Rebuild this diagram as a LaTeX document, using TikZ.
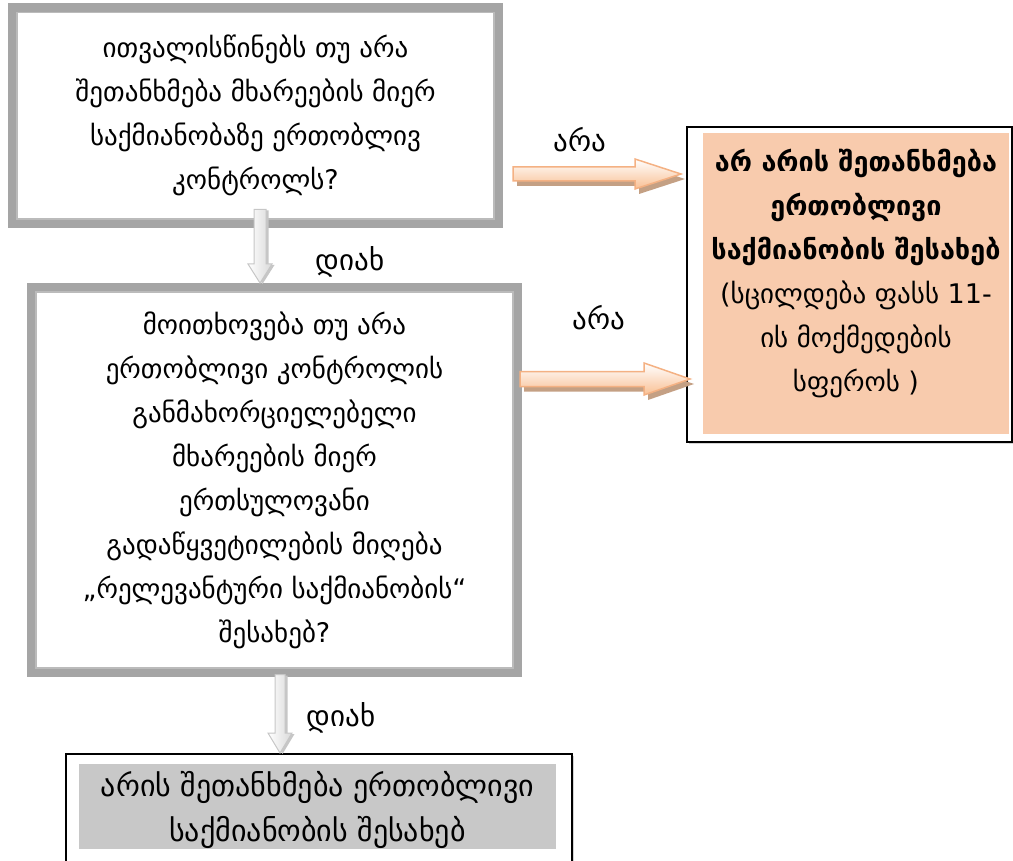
\documentclass[tikz,border=0pt]{standalone}
\usepackage{fontspec}
\setmainfont{DejaVu Sans}
\usetikzlibrary{calc,positioning,shadows}
\definecolor{framegray}{RGB}{165,165,165}
\definecolor{peach}{RGB}{248,203,173}
\definecolor{peachline}{RGB}{244,177,131}
\definecolor{peachshade}{RGB}{196,160,132}
\definecolor{boxgray}{RGB}{200,200,200}
\newcommand{\katext}{\fontsize{27pt}{44pt}\selectfont}
\newcommand{\kabig}{\fontsize{30pt}{45pt}\selectfont}
\newcommand{\kalbl}{\fontsize{29pt}{36pt}\selectfont}
% block arrow: style, from, to, shaft half width, head half width, head length
\newcommand{\blockarrow}[6]{%
  \coordinate (ba) at ($(#3)!#6!(#2)$);
  \path[#1] ($(#2)!#4!90:(#3)$) -- ($(ba)!#4!90:(#3)$) -- ($(ba)!#5!90:(#3)$) -- (#3)
    -- ($(ba)!#5!-90:(#3)$) -- ($(ba)!#4!-90:(#3)$) -- ($(#2)!#4!-90:(#3)$) -- cycle;}
\tikzset{
  qbox/.style={draw=framegray,line width=9pt,inner sep=0pt,align=center,font=\katext},
  innerline/.style={draw=framegray!75,line width=1.5pt},
  outframe/.style={draw=black,line width=2pt,fill=white,inner sep=0pt,
    drop shadow={shadow xshift=1.5pt,shadow yshift=-1.5pt,opacity=0.35}},
  peacharrow/.style={draw=peachline,line width=1.5pt,top color=white,bottom color=peach!85!orange,
    drop shadow={shadow xshift=4pt,shadow yshift=-5pt,fill=peachshade,opacity=1}},
  grayarrow/.style={draw=gray!45,line width=1pt,left color=white,right color=gray!30,
    drop shadow={shadow xshift=2.5pt,shadow yshift=-1pt,fill=gray!45,opacity=1}},
  lbl/.style={font=\kalbl,inner sep=1pt}
}
\begin{document}
\begin{tikzpicture}[x=1pt,y=1pt]
\useasboundingbox (0,0) rectangle (1013,-861);
% questions
\node[qbox,minimum width=486pt,minimum height=215.5pt] (q1) at (255.5,-115.75)
  {ითვალისწინებს თუ არა\\შეთანხმება მხარეების მიერ\\საქმიანობაზე ერთობლივ\\კონტროლს?};
\draw[innerline] ([shift={(9,-9)}]q1.north west) rectangle ([shift={(-9,9)}]q1.south east);
\node[qbox,minimum width=486pt,minimum height=385pt] (q2) at (274.5,-480)
  {მოითხოვება თუ არა\\ერთობლივი კონტროლის\\განმახორციელებელი\\მხარეების მიერ\\ერთსულოვანი\\გადაწყვეტილების მიღება\\„რელევანტური საქმიანობის“\\შესახებ?};
\draw[innerline] ([shift={(9,-9)}]q2.north west) rectangle ([shift={(-9,9)}]q2.south east);
% outcomes
\node[outframe,minimum width=325pt,minimum height=315pt] (nobox) at (849.5,-284.5) {};
\fill[peach] ([shift={(17,-7)}]nobox.north west) rectangle ([shift={(-4,9)}]nobox.south east);
\node[align=center,font=\katext] (no1) at (856,-273)
  {\textbf{არ არის შეთანხმება}\\\textbf{ერთობლივი}\\\textbf{საქმიანობის შესახებ}\\(სცილდება ფასს 11-\\ის მოქმედების\\სფეროს )};
\node[outframe,minimum width=506pt,minimum height=140pt] (yesbox) at (319,-824) {};
\fill[boxgray] ([shift={(14,-11)}]yesbox.north west) rectangle ([shift={(-17,-96)}]yesbox.north east);
\node[align=center,font=\kabig] (yes1) at (317.5,-809.5)
  {არის შეთანხმება ერთობლივი\\საქმიანობის შესახებ};
% arrows
\coordinate (d1s) at ($(q1.south)+(4.5,18.5)$);
\coordinate (d1e) at (d1s |- q2.north);
\blockarrow{grayarrow}{d1s}{d1e}{6pt}{12pt}{19pt}
\coordinate (r1s) at ($(q1.east |- 0,-174)+(10,0)$);
\coordinate (r1e) at ($(nobox.west |- 0,-174)+(-5,0)$);
\blockarrow{peacharrow}{r1s}{r1e}{7pt}{15pt}{46pt}
\coordinate (r2s) at ($(q2.east |- 0,-379)+(-2,0)$);
\coordinate (r2e) at ($(nobox.west |- 0,-379)+(4,0)$);
\blockarrow{peacharrow}{r2s}{r2e}{7.5pt}{16pt}{46pt}
\coordinate (d2s) at ($(q2.south)+(5.5,2.5)$);
\coordinate (d2e) at (d2s |- yesbox.north);
\blockarrow{grayarrow}{d2s}{d2e}{5pt}{12pt}{20pt}
% labels
\node[lbl] (lno1) at (580,-140) {არა};
\node[lbl] (lyes1) at (350,-262) {დიახ};
\node[lbl] (lno2) at (599,-318) {არა};
\node[lbl] (lyes2) at (341,-718) {დიახ};
\end{tikzpicture}
\end{document}
